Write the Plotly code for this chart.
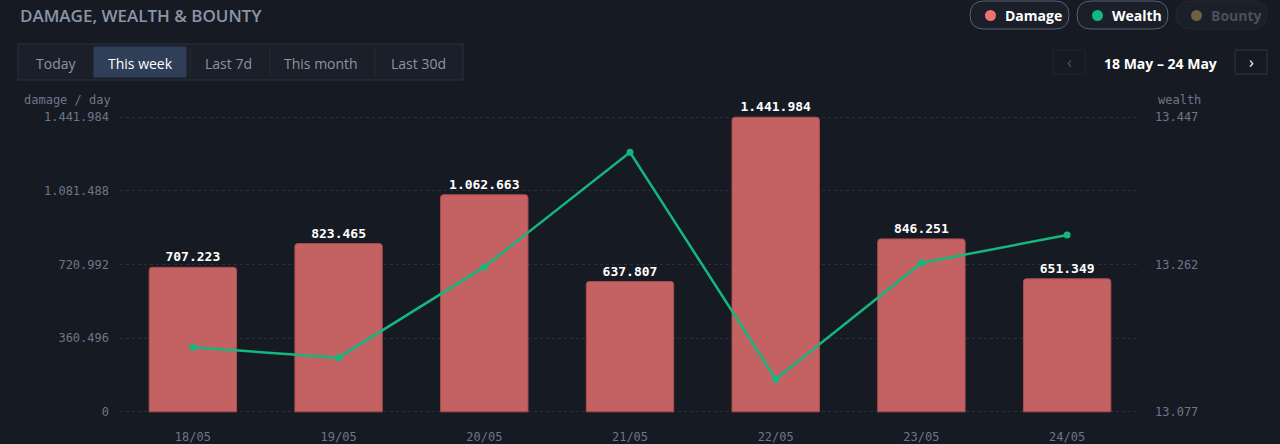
import numpy as np
import plotly.graph_objects as go

# data
days = ["18/05", "19/05", "20/05", "21/05", "22/05", "23/05", "24/05"]
damage = [707223, 823465, 1062663, 637807, 1441984, 846251, 651349]
wealth = [13158, 13145, 13259, 13403, 13118, 13264, 13299]
damage_max = 1441984
wealth_min, wealth_max = 13077, 13447

presets = ["Today", "This week", "Last 7d", "This month", "Last 30d"]
preset_x = [56, 140, 228, 321, 418]
selected = "This week"
range_label = "18 May – 24 May"

BG = "#161a23"
MUTED = "#6b7789"
MONO = "DejaVu Sans Mono"
SANS = "Open Sans"

W, H = 1280, 444
L, R, T, B = 120, 140, 116, 31
PAD = 0.004  # tiny range padding so the edge grid lines are drawn


def px(x):
    # pixel -> paper x
    return (x - L) / (W - L - R)


def py(y):
    # pixel -> paper y
    return (H - B - y) / (H - T - B)


fig = go.Figure()
fig.add_trace(go.Bar(
    x=days, y=damage, name="Damage",
    marker=dict(color="#c46162", line=dict(color="#a84c4e", width=1)),
    width=0.6,
    texttemplate="%{y:,d}", textposition="outside", cliponaxis=False,
    textfont=dict(family=MONO, size=13, color="#ffffff", weight="bold"),
))
fig.add_trace(go.Scatter(
    x=days, y=wealth, name="Wealth", yaxis="y2",
    mode="lines+markers",
    line=dict(color="#14b87f", width=2.5),
    marker=dict(size=7, color="#14b87f"),
))

shapes = []
annotations = []


def rect(x0, y0, x1, y1, fill, line, lw=1):
    shapes.append(dict(type="rect", xref="paper", yref="paper",
                       x0=px(x0), x1=px(x1), y0=py(y0), y1=py(y1),
                       fillcolor=fill, line=dict(color=line, width=lw), layer="below"))


def text(x, y, s, size=14, color=MUTED, family=SANS, weight="normal", xanchor="center"):
    annotations.append(dict(xref="paper", yref="paper", x=px(x), y=py(y), text=s,
                            showarrow=False, xanchor=xanchor, yanchor="middle",
                            font=dict(family=family, size=size, color=color, weight=weight)))


# header
text(18, 15, "DAMAGE, WEALTH & BOUNTY", size=17, color="#8a95a8", weight=600, xanchor="left")

# preset buttons
rect(18, 44, 463, 80, "#1a1f29", "#2a3140")
rect(94, 47, 186, 77, "#2e3f57", "#2e3f57")
for sx in [190, 270, 375]:
    shapes.append(dict(type="line", xref="paper", yref="paper", x0=px(sx), x1=px(sx),
                       y0=py(48), y1=py(76), line=dict(color="#262c38", width=1)))
for name, bx in zip(presets, preset_x):
    text(bx, 63, name, size=14, color="#ffffff" if name == selected else "#8a94a6")

# legend pills
pills = [("Damage", 970, 1069, "#f07272", "#ffffff", "#596070"),
         ("Wealth", 1077, 1168, "#10b981", "#ffffff", "#596070"),
         ("Bounty", 1176, 1267, "#6e5f45", "#4a505c", "#232833")]
for name, x0, x1, dot, col, border in pills:
    shapes.append(dict(type="path", xref="paper", yref="paper", layer="below",
                       path=f"M {px(x0 + 14)},{py(1)} L {px(x1 - 14)},{py(1)} "
                            f"Q {px(x1)},{py(1)} {px(x1)},{py(15)} Q {px(x1)},{py(29)} {px(x1 - 14)},{py(29)} "
                            f"L {px(x0 + 14)},{py(29)} Q {px(x0)},{py(29)} {px(x0)},{py(15)} "
                            f"Q {px(x0)},{py(1)} {px(x0 + 14)},{py(1)} Z",
                       fillcolor="#1a1f29", line=dict(color=border, width=1)))
    shapes.append(dict(type="circle", xref="paper", yref="paper",
                       x0=px(x0 + 15), x1=px(x0 + 26), y0=py(10), y1=py(21),
                       fillcolor=dot, line=dict(width=0)))
    text(x0 + 33, 15, name, size=14, color=col, weight="bold", xanchor="left")

# date navigation
rect(1053, 50, 1085, 74, BG, "#20252f")
text(1069, 62, "‹", size=16, color="#4e5564")
text(1160, 63, range_label, size=14, color="#ffffff", weight="bold")
rect(1235, 50, 1267, 74, BG, "#2e3542")
text(1251, 62, "›", size=16, color="#ffffff")

# axis captions
text(22, 100, "damage / day", size=12, color=MUTED, family=MONO, xanchor="left")
text(1156, 100, "wealth", size=12, color=MUTED, family=MONO, xanchor="left")

d_pad = damage_max * PAD
w_pad = (wealth_max - wealth_min) * PAD

fig.update_layout(
    width=W, height=H,
    margin=dict(l=L, r=R, t=T, b=B, autoexpand=False),
    paper_bgcolor=BG, plot_bgcolor=BG,
    separators=",.",
    showlegend=False,
    hovermode=False,
    barcornerradius=3,
    shapes=shapes, annotations=annotations,
    xaxis=dict(
        type="category", range=[-0.5, len(days) - 0.5],
        showgrid=False, zeroline=False, showline=False, automargin=False,
        tickfont=dict(family=MONO, size=12, color=MUTED),
        ticklabelstandoff=15,
    ),
    yaxis=dict(
        range=[-d_pad, damage_max + d_pad],
        tickvals=np.linspace(0, damage_max, 5), tickformat=",d",
        showgrid=True, gridcolor="#2a303b", griddash="dot", gridwidth=1,
        zeroline=False, showline=False, automargin=False,
        tickfont=dict(family=MONO, size=12, color=MUTED),
        ticklabelstandoff=10,
    ),
    yaxis2=dict(
        overlaying="y", side="right",
        range=[wealth_min - w_pad, wealth_max + w_pad],
        tickvals=[wealth_min, (wealth_min + wealth_max) / 2, wealth_max], tickformat=",d",
        showgrid=False, zeroline=False, showline=False, automargin=False,
        tickfont=dict(family=MONO, size=12, color=MUTED),
        ticklabelstandoff=14,
    ),
)

fig.write_html(
    "out.html",
    config={"displayModeBar": False},
    post_script="document.body.style.margin='0';document.body.style.background='%s';" % BG,
)
